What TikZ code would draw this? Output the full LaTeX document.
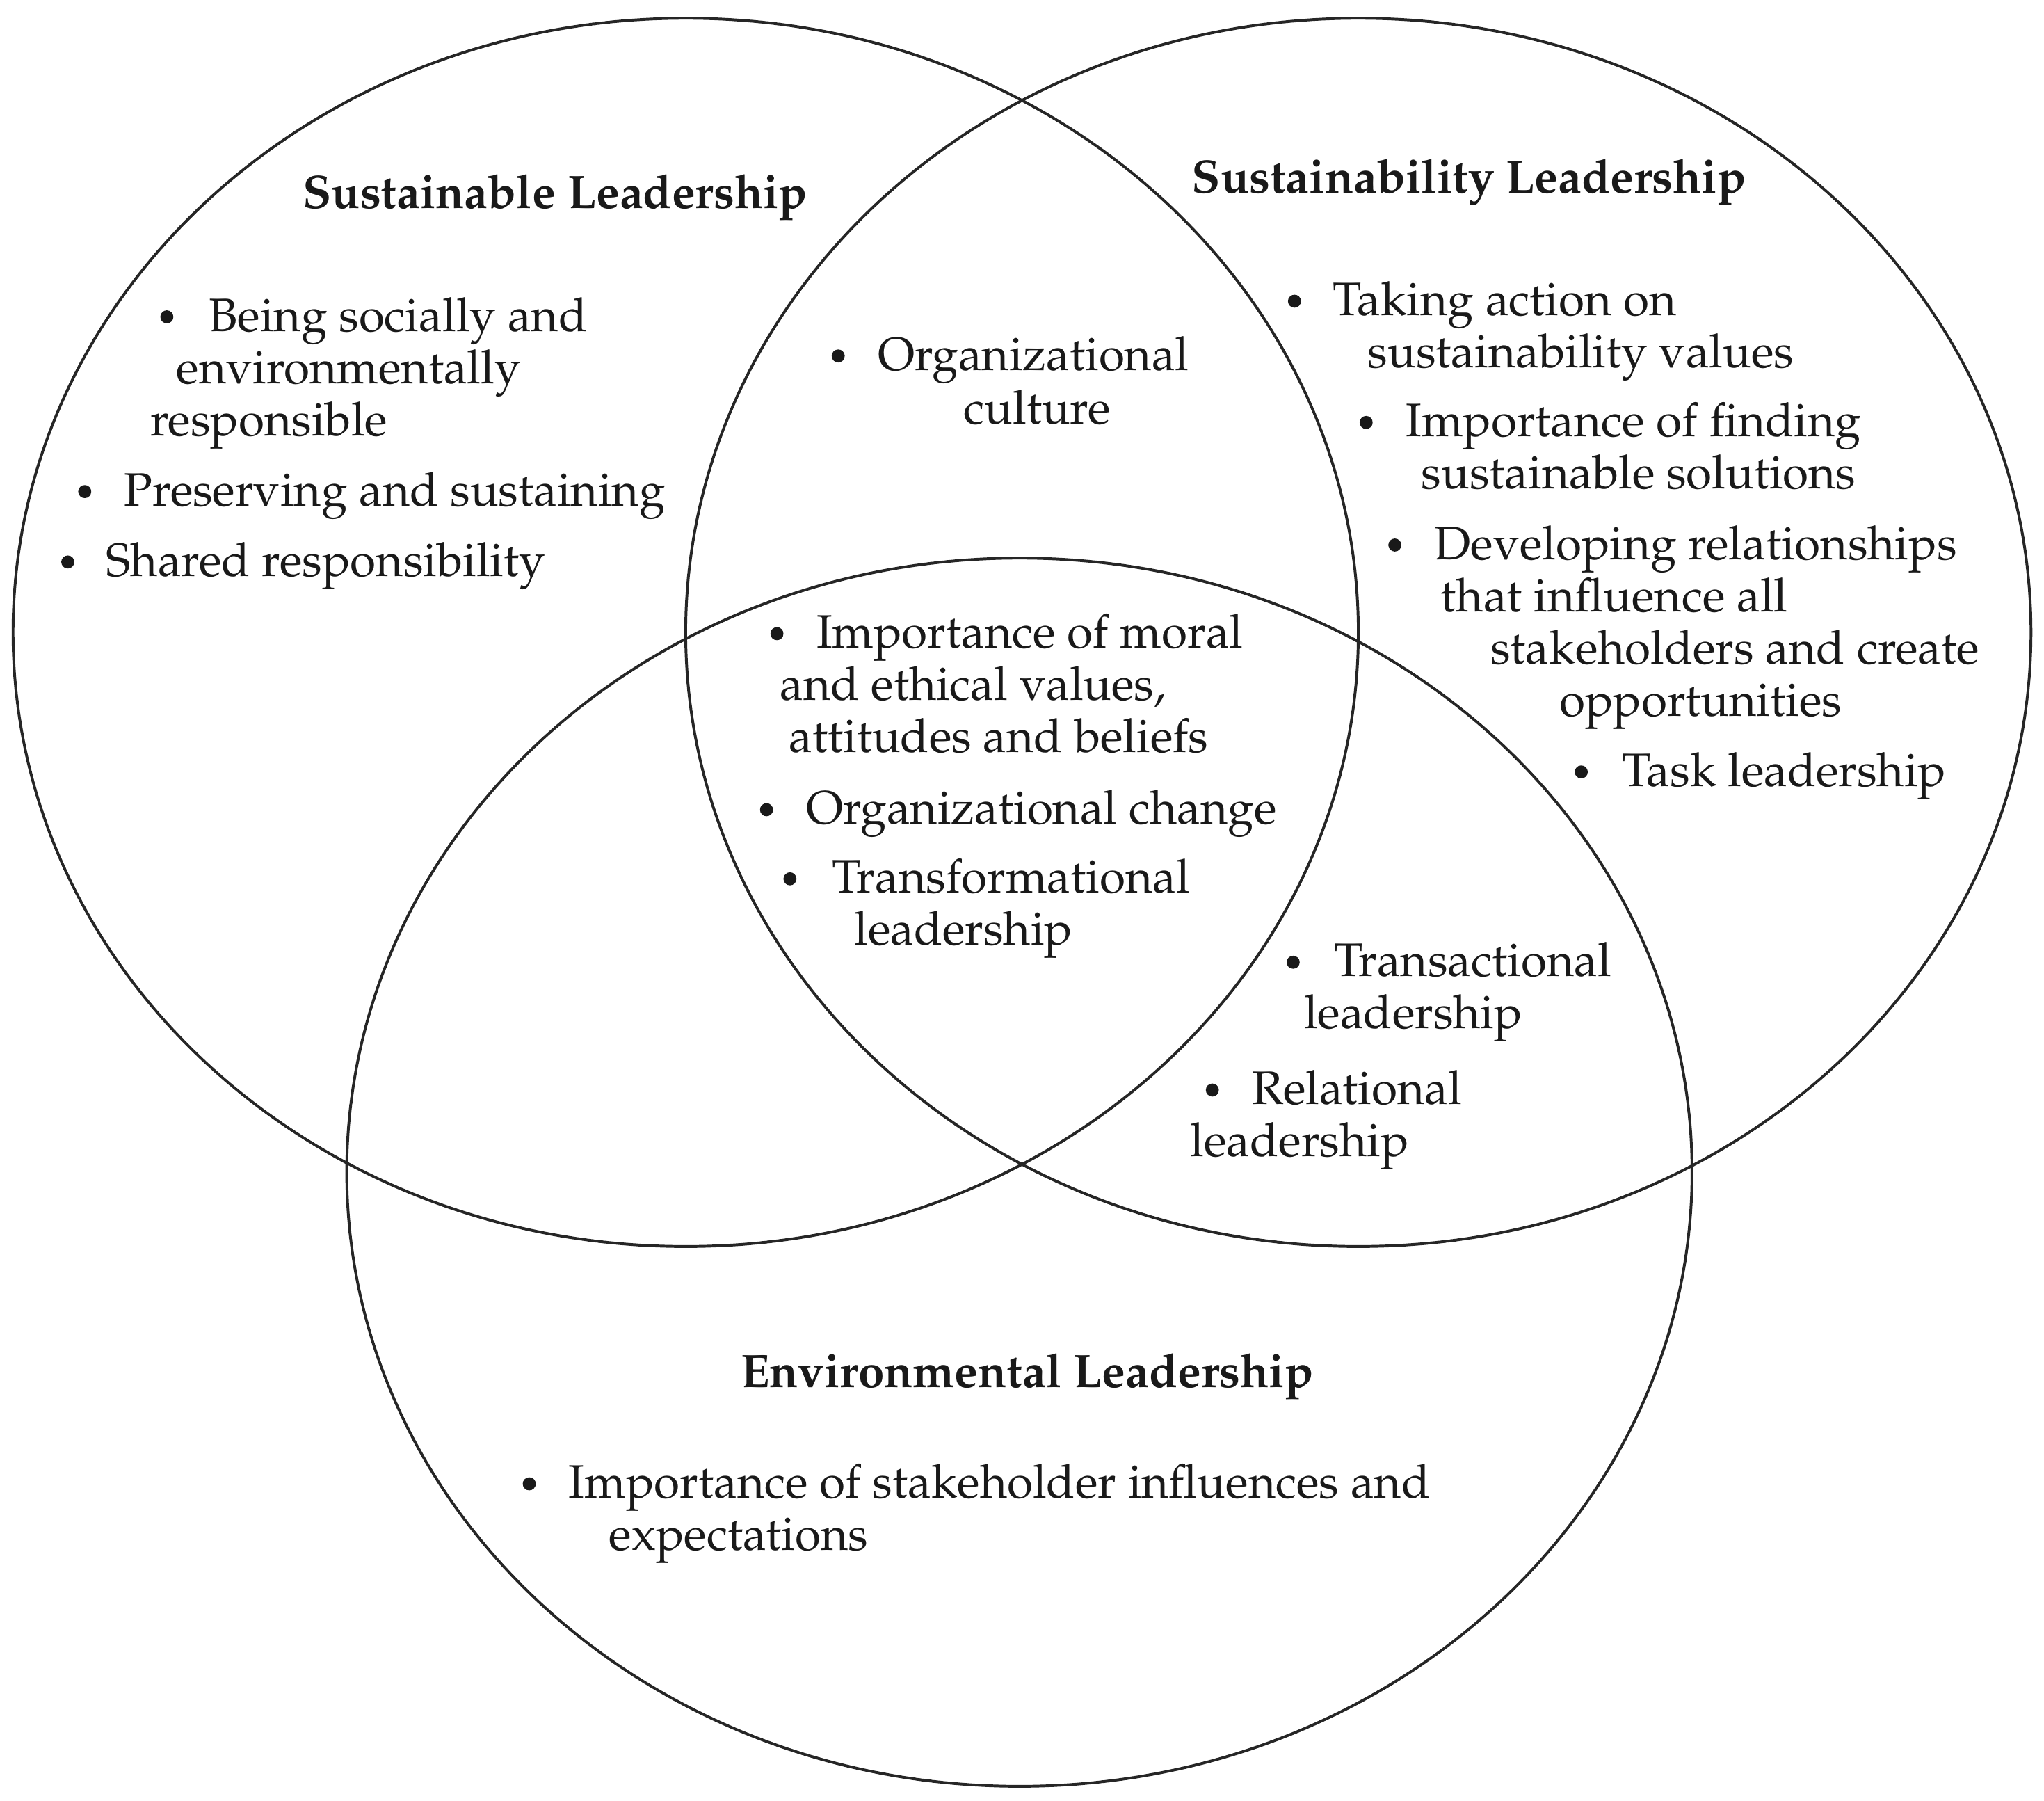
\documentclass[tikz,border=0pt]{standalone}
\usepackage[T1]{fontenc}
\usepackage{mathpazo}
\usetikzlibrary{positioning}

\begin{document}
\begin{tikzpicture}[x=0.02cm, y=-0.02cm,
        ring/.style={draw=black!85, line width=1.2pt},
        txt/.style={anchor=base west, inner sep=0pt, text=black!90,
                    font=\fontsize{20.5}{22.8}\selectfont},
        head/.style={txt, font=\fontsize{20.5}{22.8}\selectfont\bfseries},
        dot/.style={circle, fill=black!90, inner sep=0pt, minimum size=0.2cm}]
      \useasboundingbox (0,0) rectangle (1568,1381);
      % the three sets
      \draw[ring] (526,485) ellipse [x radius=516, y radius=471];
      \draw[ring] (1042,485) ellipse [x radius=516, y radius=471];
      \draw[ring] (782,899) ellipse [x radius=516, y radius=471];
      % sustainable leadership
      \node[head] (slh) at (232,160) {Sustainable Leadership};
      \node[dot] (sld1) at (128,243) {};
      \node[txt] (sl1) at (160,254) {Being socially and};
      \node[txt] (sl1b) at (135,294) {environmentally};
      \node[txt] (sl1c) at (115,334) {responsible};
      \node[dot] (sld2) at (65,377) {};
      \node[txt] (sl2) at (95,388) {Preserving and sustaining};
      \node[dot] (sld3) at (52,431) {};
      \node[txt] (sl3) at (81,442) {Shared responsibility};
      % sustainable & sustainability
      \node[dot] (ocd) at (643,273) {};
      \node[txt] (oc) at (673,284) {Organizational};
      \node[txt] (ocb) at (739,325) {culture};
      % sustainability leadership
      \node[head] (syh) at (914,148) {Sustainability Leadership};
      \node[dot] (syd1) at (993,231) {};
      \node[txt] (sy1) at (1022,242) {Taking action on};
      \node[txt] (sy1b) at (1049,282) {sustainability values};
      \node[dot] (syd2) at (1048,324) {};
      \node[txt] (sy2) at (1078,335) {Importance of finding};
      \node[txt] (sy2b) at (1090,375) {sustainable solutions};
      \node[dot] (syd3) at (1070,418) {};
      \node[txt] (sy3) at (1100,429) {Developing relationships};
      \node[txt] (sy3b) at (1105,469) {that influence all};
      \node[txt] (sy3c) at (1143,509) {stakeholders and create};
      \node[txt] (sy3d) at (1196,549) {opportunities};
      \node[dot] (syd4) at (1213,592) {};
      \node[txt] (sy4) at (1244,603) {Task leadership};
      % all three
      \node[dot] (cd1) at (596,486) {};
      \node[txt] (c1) at (626,497) {Importance of moral};
      \node[txt] (c1b) at (598,537) {and ethical values,};
      \node[txt] (c1c) at (605,577) {attitudes and beliefs};
      \node[dot] (cd2) at (588,621) {};
      \node[txt] (c2) at (618,632) {Organizational change};
      \node[dot] (cd3) at (606,674) {};
      \node[txt] (c3) at (638,685) {Transformational};
      \node[txt] (c3b) at (655,725) {leadership};
      % sustainability & environmental
      \node[dot] (sed1) at (992,738) {};
      \node[txt] (se1) at (1023,749) {Transactional};
      \node[txt] (se1b) at (1000,789) {leadership};
      \node[dot] (sed2) at (930,836) {};
      \node[txt] (se2) at (960,847) {Relational};
      \node[txt] (se2b) at (913,887) {leadership};
      % environmental leadership
      \node[head] (elh) at (568,1064) {Environmental Leadership};
      \node[dot] (eld1) at (406,1138) {};
      \node[txt] (el1) at (436,1149) {Importance of stakeholder influences and};
      \node[txt] (el1b) at (467,1189) {expectations};
    \end{tikzpicture}
\end{document}
